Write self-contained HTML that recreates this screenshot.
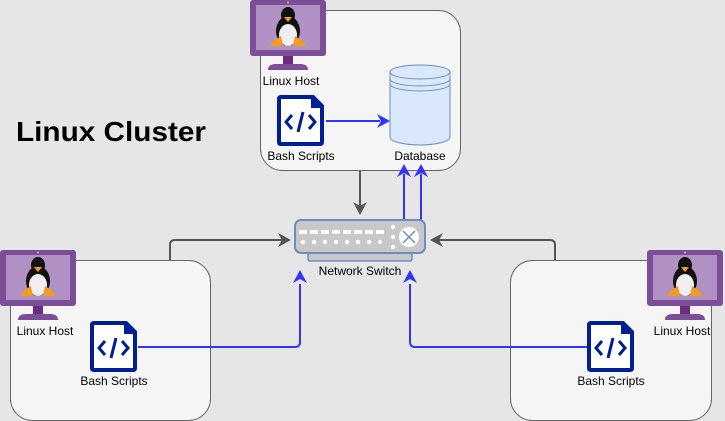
<!DOCTYPE html>
<html><head><meta charset="utf-8"><style>
html,body{margin:0;padding:0;background:#e6e6e6;}
svg{display:block;}
text{font-family:"Liberation Sans",Arial,sans-serif;font-size:12px;fill:#000;}
</style></head><body>
<svg width="725" height="421" viewBox="0 0 725 421" xmlns="http://www.w3.org/2000/svg">
<defs>
<g id="mon">
  <rect x="0" y="0" width="76" height="56" rx="3" fill="#7d4e98"/>
  <rect x="6" y="5" width="64" height="45" fill="#b190c4"/>
  <circle cx="38" cy="2.5" r="1" fill="#b8d84a"/>
  <rect x="33" y="56" width="10" height="8" fill="#6a2c7e"/>
  <path d="M18 70 Q18 64 26 64 L50 64 Q58 64 58 70 Z" fill="#7d4e98"/>
  <ellipse cx="38" cy="31" rx="12" ry="15" fill="#111"/>
  <ellipse cx="38" cy="35" rx="9" ry="11" fill="#f0eef2"/>
  <ellipse cx="38" cy="15" rx="7" ry="8" fill="#111"/>
  <path d="M34 17 L42 17 L38 22 Z" fill="#f29c1f"/>
  <path d="M22 42 L31 36 L33 46 L21 46 Z" fill="#f29c1f"/>
  <path d="M54 42 L45 36 L43 46 L55 46 Z" fill="#f29c1f"/>
</g>
<g id="scr">
  <path d="M3 2 L36 2 L45 11 L45 47 Q45 49 43 49 L4 49 Q2 49 2 47 L2 4 Q2 2 4 2 Z" fill="#fff" stroke="#001f96" stroke-width="4"/>
  <path d="M34 2 L34 13 L45 13" fill="#001f96"/>
  <path d="M15 20 L9 27 L15 34 M32 20 L38 27 L32 34 M26 17 L21 37" fill="none" stroke="#001f96" stroke-width="3"/>
</g>
</defs>
<rect x="260.5" y="10.5" width="200" height="160" rx="22" fill="#f5f5f5" stroke="#666"/>
<rect x="10.5" y="260.5" width="200" height="160" rx="22" fill="#f5f5f5" stroke="#666"/>
<rect x="510.5" y="260.5" width="201" height="160" rx="22" fill="#f5f5f5" stroke="#666"/>

<text x="16" y="141" textLength="190" lengthAdjust="spacingAndGlyphs" style="font-size:28px;font-weight:bold">Linux Cluster</text>

<g fill="none" stroke="#555" stroke-width="2">
  <path d="M360 171 L360 206"/>
  <path d="M170 260 L170 245 Q170 240 175 240 L282 240"/>
  <path d="M555 260 L555 245 Q555 240 550 240 L439 240"/>
</g>
<g fill="#555">
  <path d="M353 202 L360 215 L367 202 L360 206 Z"/>
  <path d="M278 233 L291 240 L278 247 L282 240 Z"/>
  <path d="M443 233 L430 240 L443 247 L439 240 Z"/>
</g>
<g fill="none" stroke="#3333ff" stroke-width="2">
  <path d="M326 121 L380 121"/>
  <path d="M404 220 L404 174"/>
  <path d="M421 220 L421 174"/>
  <path d="M138 347 L295 347 Q300 347 300 342 L300 284"/>
  <path d="M587 347 L415 347 Q410 347 410 342 L410 284"/>
</g>
<g fill="#3333ff">
  <path d="M377 114 L390 121 L377 128 L381 121 Z"/>
  <path d="M397 177 L404 164 L411 177 L404 173 Z"/>
  <path d="M414 177 L421 164 L428 177 L421 173 Z"/>
  <path d="M293 283 L300 270 L307 283 L300 279 Z"/>
  <path d="M403 283 L410 270 L417 283 L410 279 Z"/>
</g>

<g stroke="#6c8ebf" stroke-width="1" fill="#dae8fc">
  <path d="M390 72 L390 137 A30 8 0 0 0 450 137 L450 72"/>
  <ellipse cx="420" cy="72" rx="30" ry="7"/>
  <path d="M390 79 A30 7 0 0 0 450 79 M390 84 A30 7 0 0 0 450 84" fill="none"/>
</g>
<text x="420" y="160" text-anchor="middle">Database</text>

<rect x="308" y="252" width="104" height="9" rx="2" fill="#c8c8c8" stroke="#6c8ebf" stroke-width="1.5"/>
<rect x="295" y="220" width="130" height="33" rx="6" fill="#c8c8c8" stroke="#6c8ebf" stroke-width="2"/>
<g fill="#fff">
  <rect x="299" y="230" width="8" height="4"/><rect x="310" y="230" width="8" height="4"/><rect x="321" y="230" width="8" height="4"/><rect x="332" y="230" width="8" height="4"/><rect x="343" y="230" width="8" height="4"/><rect x="354" y="230" width="8" height="4"/><rect x="365" y="230" width="8" height="4"/><rect x="376" y="230" width="8" height="4"/>
  <circle cx="303" cy="242" r="2.2"/><circle cx="314" cy="242" r="2.2"/><circle cx="325" cy="242" r="2.2"/><circle cx="336" cy="242" r="2.2"/><circle cx="347" cy="242" r="2.2"/><circle cx="358" cy="242" r="2.2"/><circle cx="369" cy="242" r="2.2"/><circle cx="380" cy="242" r="2.2"/>
  <circle cx="393" cy="227" r="2.2"/><circle cx="393" cy="237" r="2.2"/><circle cx="393" cy="247" r="2.2"/>
  <circle cx="409" cy="237" r="10"/>
</g>
<path d="M403 231 L415 243 M415 231 L403 243" stroke="#6c8ebf" stroke-width="1.5"/>
<text x="360" y="275" text-anchor="middle">Network Switch</text>

<use href="#mon" x="250" y="0"/>
<use href="#mon" x="0" y="250"/>
<use href="#mon" x="647" y="250"/>
<text x="291" y="85" text-anchor="middle">Linux Host</text>
<text x="45" y="335" text-anchor="middle">Linux Host</text>
<text x="682" y="335" text-anchor="middle">Linux Host</text>

<use href="#scr" x="277" y="95"/>
<use href="#scr" x="90" y="321"/>
<use href="#scr" x="587" y="321"/>
<text x="301" y="160" text-anchor="middle">Bash Scripts</text>
<text x="114" y="385" text-anchor="middle">Bash Scripts</text>
<text x="611" y="385" text-anchor="middle">Bash Scripts</text>
</svg>
</body></html>
